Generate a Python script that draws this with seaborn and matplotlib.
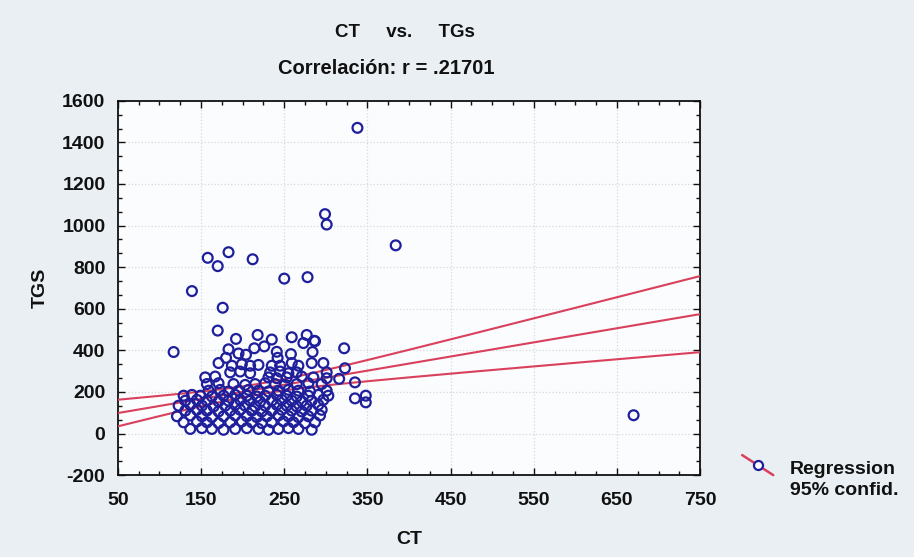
import numpy as np
import pandas as pd
import matplotlib
matplotlib.use("Agg")
import matplotlib.pyplot as plt
from matplotlib.lines import Line2D
from matplotlib.ticker import MultipleLocator
import seaborn as sns

# Colesterol total (CT) y triglicéridos (TGS) por paciente
ct = [
    # valores extremos
    338, 299, 301, 384, 158, 183, 170, 212, 250, 278, 139, 176, 170, 117, 670,
    # franja 360-480
    192, 218, 235, 259, 277, 287, 322, 183, 195, 204, 214, 226, 241, 242, 258,
    273, 284, 286, 180,
    # derecha del grupo principal
    316, 323, 335, 335, 348, 348,
    # grupo principal
    171, 187, 199, 209, 219, 235, 245, 259, 267, 283, 297,
    185, 197, 209, 233, 245, 255, 265, 301,
    155, 167, 231, 241, 253, 271, 285, 301,
    157, 171, 189, 203, 215, 227, 239, 251, 265, 279, 295,
    159, 173, 183, 195, 207, 219, 231, 243, 255, 267, 281, 301,
    129, 139, 149, 163, 177, 191, 205, 217, 227, 241, 253, 265, 279, 291, 303,
    131, 145, 157, 171, 183, 197, 209, 221, 235, 247, 259, 271, 283, 297,
    123, 137, 151, 165, 179, 191, 203, 215, 227, 241, 253, 265, 277, 291,
    131, 145, 157, 171, 185, 197, 211, 223, 235, 247, 259, 271, 283, 295,
    121, 137, 151, 163, 177, 191, 205, 217, 229, 243, 255, 267, 279, 293,
    129, 145, 157, 171, 185, 199, 211, 223, 235, 249, 261, 275, 287,
    137, 151, 163, 177, 191, 205, 219, 231, 243, 255, 267, 283,
]
tgs = [
    1470, 1055, 1005, 905, 845, 872, 805, 838, 745, 752, 685, 605, 495, 392, 88,
    455, 474, 452, 463, 474, 444, 410, 405, 385, 379, 410, 419, 393, 364, 382,
    435, 392, 446, 364,
    263, 314, 246, 169, 182, 150,
    339, 326, 333, 326, 330, 326, 326, 339, 326, 339, 339,
    294, 298, 290, 294, 298, 290, 294, 294,
    270, 274, 270, 266, 270, 274, 270, 266,
    238, 242, 238, 234, 238, 242, 238, 234, 238, 242, 238,
    206, 210, 202, 206, 210, 206, 202, 206, 210, 206, 202, 206,
    182, 186, 182, 178, 182, 186, 182, 178, 182, 186, 182, 178, 182, 186, 182,
    158, 162, 158, 154, 158, 162, 158, 154, 158, 162, 158, 154, 158, 162,
    134, 138, 134, 130, 134, 138, 134, 130, 134, 138, 134, 130, 134, 138,
    110, 114, 110, 106, 110, 114, 110, 106, 110, 114, 110, 106, 110, 114,
    83, 87, 83, 79, 83, 87, 83, 79, 83, 87, 83, 79, 83, 87,
    54, 58, 54, 50, 54, 58, 54, 50, 54, 58, 54, 50, 54,
    22, 26, 22, 18, 22, 26, 22, 18, 22, 26, 22, 18,
]

# Recta de regresión y límites de confianza al 95 % en varios valores de CT
reg_ct = [50, 221, 353, 750]
reg_fit = [99, 216, 302, 575]
reg_lower = [35, 191, 250, 392]
reg_upper = [163, 241, 354, 758]

title_lines = ["CT     vs.     TGs", "Correlación: r = .21701"]
x_label = "CT"
y_label = "TGS"
legend_labels = ["Regression", "95% confid."]
x_ticks = [50, 150, 250, 350, 450, 550, 650, 750]
y_ticks = [-200, 0, 200, 400, 600, 800, 1000, 1200, 1400, 1600]

df = pd.DataFrame({"CT": ct, "TGS": tgs})

sns.set_theme(style="white")
plt.rcParams["font.family"] = ["Liberation Sans", "DejaVu Sans"]
plt.rcParams["font.weight"] = "bold"
plt.rcParams["axes.unicode_minus"] = False

fig = plt.figure(figsize=(9.14, 5.57), dpi=100)
fig.patch.set_facecolor("#e9eff3")
ax = fig.add_axes([0.129, 0.147, 0.637, 0.672])
ax.set_facecolor("#fbfcfd")

# Straight fit line; the confidence band follows the usual hyperbola,
# whose squared half-width is quadratic in CT
rx = np.asarray(reg_ct, float)
lo = np.asarray(reg_lower, float)
hi = np.asarray(reg_upper, float)
line_coef = np.polyfit(rx, np.asarray(reg_fit, float), 1)
band_coef = np.polyfit(rx, ((hi - lo) / 2) ** 2, 2)
xs = np.linspace(x_ticks[0], x_ticks[-1], 300)
fit = np.polyval(line_coef, xs)
half = np.sqrt(np.clip(np.polyval(band_coef, xs), 0, None))
line_col = "#d9405c"
for yy in (fit, fit - half, fit + half):
    ax.plot(xs, yy, color=line_col, lw=1.5, zorder=3)

sns.scatterplot(data=df, x="CT", y="TGS", ax=ax, marker="o", s=50,
                facecolors="none", edgecolor="#1f1f9c", linewidth=1.6,
                zorder=4, legend=False)

ax.set_xlim(x_ticks[0], x_ticks[-1])
ax.set_ylim(y_ticks[0], y_ticks[-1])
ax.set_xticks(x_ticks)
ax.set_yticks(y_ticks)
ax.xaxis.set_minor_locator(MultipleLocator(25))
ax.yaxis.set_minor_locator(MultipleLocator(200 / 3))
ax.tick_params(which="both", direction="in", top=True, right=True,
               bottom=True, left=True, color="#111111", width=1.0)
ax.tick_params(which="major", length=5, labelsize=14,
               labelcolor="#111111")
ax.tick_params(axis="x", which="major", pad=12)
ax.tick_params(axis="y", which="major", pad=9)
ax.tick_params(which="minor", length=3)
for lab in ax.get_xticklabels() + ax.get_yticklabels():
    lab.set_fontweight("bold")
ax.grid(True, which="major", color="#d4d9de", linestyle=":", linewidth=0.9)
for sp in ax.spines.values():
    sp.set_color("#111111")
    sp.set_linewidth(1.3)

ax.set_xlabel(x_label, fontsize=14, fontweight="bold", labelpad=16,
              color="#111111")
ax.set_ylabel(y_label, fontsize=14, fontweight="bold", labelpad=10,
              color="#111111")

fig.text(0.443, 0.942, title_lines[0], ha="center", va="center",
         fontsize=13.5, fontweight="bold", color="#111111")
fig.text(0.423, 0.877, title_lines[1], ha="center", va="center",
         fontsize=14.5, fontweight="bold", color="#111111")

# Legend key: red fit line crossed by an open marker
fig.add_artist(Line2D([0.812, 0.846], [0.183, 0.147], color=line_col, lw=1.8,
                      transform=fig.transFigure))
fig.add_artist(Line2D([0.829], [0.165], marker="o", markersize=6.5,
                      markerfacecolor="white", markeredgecolor="#1f1f9c",
                      markeredgewidth=1.6, transform=fig.transFigure))
fig.text(0.864, 0.139, legend_labels[0] + "\n" + legend_labels[1],
         ha="left", va="center", fontsize=14, fontweight="bold",
         color="#111111", linespacing=1.3)

fig.savefig("out.png", dpi=100, facecolor=fig.get_facecolor())
